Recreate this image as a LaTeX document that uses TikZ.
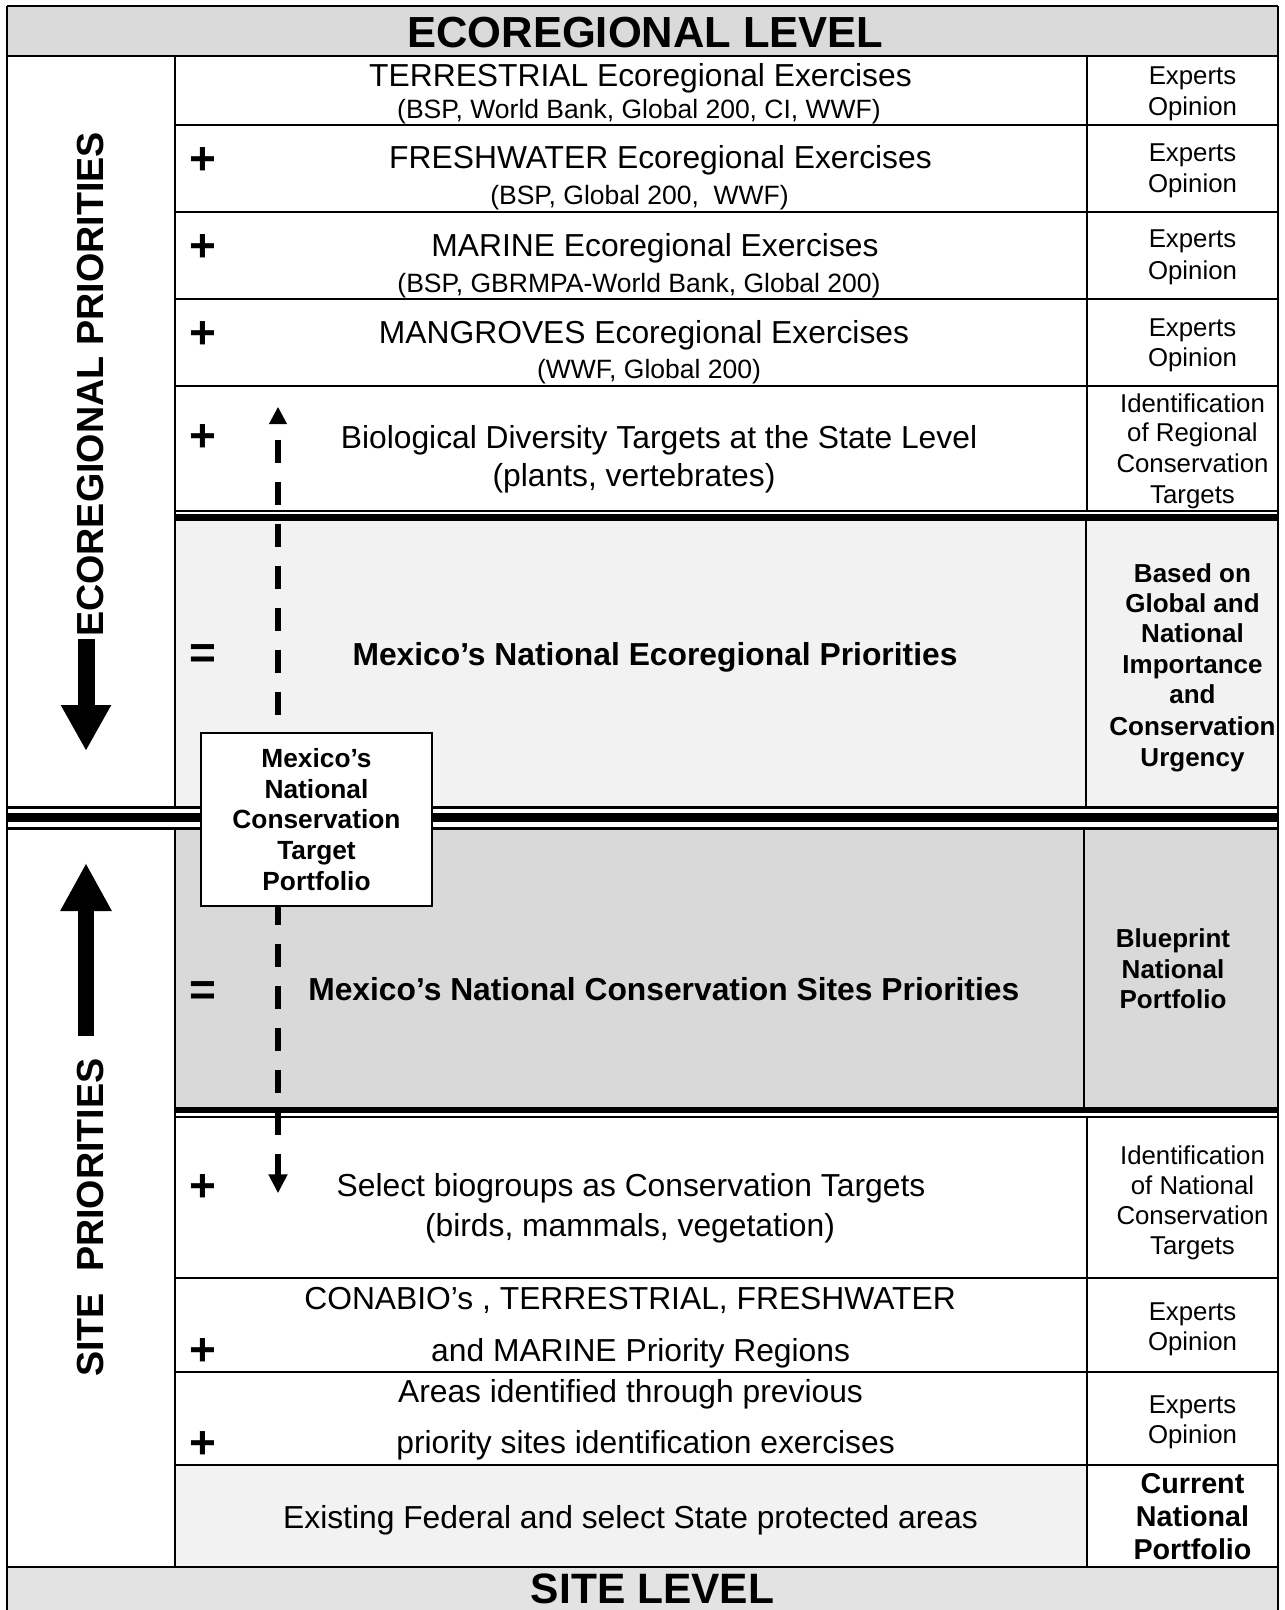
\documentclass[tikz,border=0pt]{standalone}
\usepackage{fontspec}
\setmainfont{Liberation Sans}
\usetikzlibrary{arrows.meta}
\definecolor{titlegray}{HTML}{DADADA}
\definecolor{midgray}{HTML}{D9D9D9}
\definecolor{palegray}{HTML}{F2F2F2}
\definecolor{bandgray}{HTML}{E3E3E3}
\begin{document}
\begin{tikzpicture}[x=1pt,y=-1pt,
  tx/.style={anchor=base,inner sep=0pt},
  mtext/.style={tx,font=\fontsize{31.8}{36}\selectfont},
  stext/.style={tx,font=\fontsize{26.5}{30}\selectfont},
  rtext/.style={tx,font=\fontsize{25.8}{30}\selectfont},
  rbold/.style={tx,font=\bfseries\fontsize{26}{30}\selectfont},
  cbold/.style={tx,font=\bfseries\fontsize{28.7}{33}\selectfont},
  btext/.style={tx,font=\bfseries\fontsize{31.8}{36}\selectfont},
  optext/.style={tx,font=\bfseries\fontsize{46}{50}\selectfont},
  leveltext/.style={tx,font=\bfseries\fontsize{#1}{46}\selectfont},
  sidetext/.style={rotate=90,inner sep=0pt,font=\bfseries\fontsize{37.7}{40}\selectfont},
  rule/.style={line width=2pt},
]
\useasboundingbox (0,0) rectangle (1285,1610);

% ---------- fills ----------
\fill[titlegray] (7.3,6) rectangle (1278,55.5);
\fill[palegray] (175,521) rectangle (1278,806);
\fill[midgray] (175,829.5) rectangle (1278,1107);
\fill[palegray] (175,1464.5) rectangle (1087,1567.3);
\fill[bandgray] (7.3,1567.3) rectangle (1278,1610);

% ---------- frame and rules ----------
\draw[rule] (7.3,6) -- (1278,6);
\draw[rule] (7.3,6) -- (7.3,1610);
\draw[rule] (1278,6) -- (1278,1610);
\draw[rule] (7.3,55.5) -- (1278,55.5);
\draw[rule] (175,55.5) -- (175,807);
\draw[rule] (175,828.5) -- (175,1567.3);
\foreach \yy in {125,212,299,386} \draw[rule] (175,\yy) -- (1278,\yy);
\draw[rule] (1087,55.5) -- (1087,511);
\draw[rule] (175,511) -- (1278,511);
\draw[line width=7pt] (175,517.5) -- (1278,517.5);
\draw[rule] (1086,521) -- (1086,807);
\draw[line width=3pt] (7.3,807.5) -- (1278,807.5);
\draw[line width=8.4pt] (7.3,817.5) -- (1278,817.5);
\draw[line width=3pt] (7.3,828.3) -- (1278,828.3);
\draw[rule] (1084.3,828.3) -- (1084.3,1107);
\draw[line width=6.7pt] (175,1110) -- (1278,1110);
\draw[rule] (175,1117) -- (1278,1117);
\draw[rule] (1087,1117) -- (1087,1567.3);
\foreach \yy in {1277.5,1371.8,1464.5} \draw[rule] (175,\yy) -- (1278,\yy);
\draw[rule] (7.3,1567.3) -- (1278,1567.3);

% ---------- level titles ----------
\node[leveltext=43.5] (title) at (645.5,47) {ECOREGIONAL LEVEL};
\node[leveltext=42.5] (sitelevel) at (652.6,1603.5) {SITE LEVEL};

% ---------- side labels and arrows ----------
\node[sidetext] (ecoprio) at (91,384.5) {ECOREGIONAL PRIORITIES};
\node[sidetext] (siteprio) at (91,1217.5) {SITE\ \ PRIORITIES};
\coordinate (dnA) at (86,639);
\coordinate (dnB) at (86,751);
\coordinate (upA) at (86,1036);
\coordinate (upB) at (86,863);
\draw[line width=17pt,-{Triangle[width=47pt,length=46pt]}] (dnA) -- (dnB);
\draw[line width=16pt,-{Triangle[width=48pt,length=48pt]}] (upA) -- (upB);

% ---------- operators ----------
\node[optext] (p2) at (202.5,174.2) {+};
\node[optext] (p3) at (202.5,261.5) {+};
\node[optext] (p4) at (202.5,348.2) {+};
\node[optext] (p5) at (202.5,451.9) {+};
\node[optext] (q1) at (202.5,668.8) {=};
\node[optext] (q2) at (202.5,1005.5) {=};
\node[optext] (p6) at (202.5,1201) {+};
\node[optext] (p7) at (202.5,1365) {+};
\node[optext] (p8) at (202.5,1458.3) {+};

% ---------- middle column ----------
\node[mtext] (t1) at (640.5,86.3) {TERRESTRIAL Ecoregional Exercises};
\node[stext] (t1s) at (639,118.5) {(BSP, World Bank, Global 200, CI, WWF)};
\node[mtext] (t2) at (660.5,168.3) {FRESHWATER Ecoregional Exercises};
\node[stext] (t2s) at (639.5,204) {(BSP, Global 200,\ \ WWF)};
\node[mtext] (t3) at (655,256) {MARINE Ecoregional Exercises};
\node[stext] (t3s) at (639,292) {(BSP, GBRMPA-World Bank, Global 200)};
\node[mtext] (t4) at (644,343.3) {MANGROVES Ecoregional Exercises};
\node[stext] (t4s) at (649,378.3) {(WWF, Global 200)};
\node[mtext] (t5) at (659,448) {Biological Diversity Targets at the State Level};
\node[mtext] (t5s) at (634,486) {(plants, vertebrates)};
\node[btext] (e1) at (655,665.5) {Mexico’s National Ecoregional Priorities};
\node[btext] (e2) at (663.8,1000.7) {Mexico’s National Conservation Sites Priorities};
\node[mtext] (s1) at (631,1196.5) {Select biogroups as Conservation Targets};
\node[mtext] (s1s) at (630,1236) {(birds, mammals, vegetation)};
\node[mtext] (c1) at (630,1309.4) {CONABIO’s , TERRESTRIAL, FRESHWATER};
\node[mtext] (c2) at (640.6,1361) {and MARINE Priority Regions};
\node[mtext] (a1) at (630.5,1402.5) {Areas identified through previous};
\node[mtext] (a2) at (645.6,1453) {priority sites identification exercises};
\node[mtext] (x1) at (630.5,1528.4) {Existing Federal and select State protected areas};

% ---------- right column ----------
\node[rtext] (r1a) at (1192.5,84.5) {Experts};
\node[rtext] (r1b) at (1192.5,115) {Opinion};
\node[rtext] (r2a) at (1192.5,161.2) {Experts};
\node[rtext] (r2b) at (1192.5,192.5) {Opinion};
\node[rtext] (r3a) at (1192.5,247.9) {Experts};
\node[rtext] (r3b) at (1192.5,279.2) {Opinion};
\node[rtext] (r4a) at (1192.5,336.2) {Experts};
\node[rtext] (r4b) at (1192.5,366.7) {Opinion};
\node[rtext] (r5a) at (1192.5,412.2) {Identification};
\node[rtext] (r5b) at (1192.5,441.7) {of Regional};
\node[rtext] (r5c) at (1192.5,472.6) {Conservation};
\node[rtext] (r5d) at (1192.5,503.2) {Targets};
\node[rbold] (g1) at (1192.5,582.3) {Based on};
\node[rbold] (g2) at (1192.5,612.3) {Global and};
\node[rbold] (g3) at (1192.5,642.9) {National};
\node[rbold] (g4) at (1192.5,673.3) {Importance};
\node[rbold] (g5) at (1192.5,703.3) {and};
\node[rbold] (g6) at (1192.5,735.3) {Conservation};
\node[rbold] (g7) at (1192.5,766.3) {Urgency};
\node[rbold] (b1) at (1173,947.7) {Blueprint};
\node[rbold] (b2) at (1173,978.3) {National};
\node[rbold] (b3) at (1173,1008.9) {Portfolio};
\node[rtext] (n1) at (1192.5,1164.2) {Identification};
\node[rtext] (n2) at (1192.5,1194.2) {of National};
\node[rtext] (n3) at (1192.5,1224.2) {Conservation};
\node[rtext] (n4) at (1192.5,1254.7) {Targets};
\node[rtext] (o1a) at (1192.5,1320.5) {Experts};
\node[rtext] (o1b) at (1192.5,1350.9) {Opinion};
\node[rtext] (o2a) at (1192.5,1413.2) {Experts};
\node[rtext] (o2b) at (1192.5,1443.2) {Opinion};
\node[cbold] (k1) at (1192.5,1493.3) {Current};
\node[cbold] (k2) at (1192.5,1526.3) {National};
\node[cbold] (k3) at (1192.5,1559.3) {Portfolio};

% ---------- dashed double arrow and portfolio box ----------
\coordinate (dtop) at (278,406.7);
\coordinate (dbot) at (278,1193.3);
\draw[line width=5.7pt,dash pattern=on 23pt off 19pt,dash phase=25.5pt,
  {Triangle[width=17pt,length=17.5pt]}-{Triangle[width=18pt,length=19pt]}] (dtop) -- (dbot);
\node[draw,line width=2pt,fill=white,minimum width=231pt,minimum height=173pt,
  inner sep=0pt,align=center,font=\bfseries\fontsize{26.3}{30.7}\selectfont]
  (portfolio) at (316.5,819.5) {Mexico’s\\National\\Conservation\\Target\\Portfolio};
\end{tikzpicture}
\end{document}
